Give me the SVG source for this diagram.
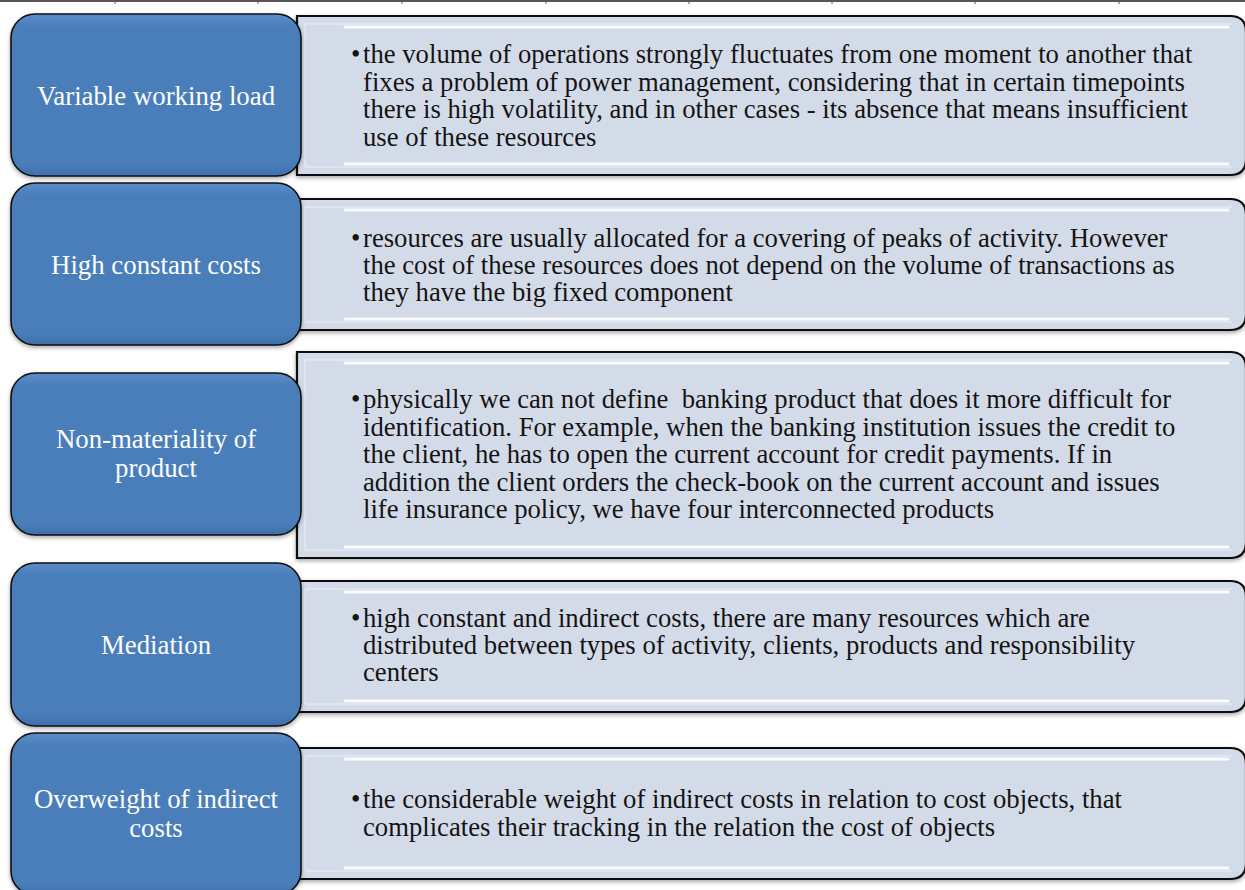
<svg xmlns="http://www.w3.org/2000/svg" width="1245" height="890" viewBox="0 0 1245 890">
<defs>
<style>
.blue{stroke:#111;stroke-width:1.6}
.lite{fill:#d4dbe8;stroke:#111;stroke-width:2.2}
.bt{font-family:"Liberation Serif","Times New Roman",serif;font-size:26.8px;fill:#ffffff;text-anchor:middle}
.lt{font-family:"Liberation Serif","Times New Roman",serif;font-size:26.7px;fill:#141414}
.hl{stroke:url(#hg);stroke-width:3;stroke-linecap:round;fill:none}
.lh{stroke:#ffffff;stroke-width:3;stroke-linecap:round;opacity:0.85;fill:none}
.bev{fill:none;stroke:#e4e8f0;stroke-width:1.5}
.tick{stroke:#555;stroke-width:1}
</style>
<linearGradient id="hg" x1="0" y1="0" x2="0" y2="1">
<stop offset="0" stop-color="#ffffff" stop-opacity="0.2"/>
<stop offset="0.15" stop-color="#ffffff" stop-opacity="0.9"/>
<stop offset="0.85" stop-color="#ffffff" stop-opacity="0.9"/>
<stop offset="1" stop-color="#ffffff" stop-opacity="0.2"/>
</linearGradient>
<linearGradient id="bg" x1="0" y1="0" x2="0" y2="1">
<stop offset="0" stop-color="#5a8cc8"/>
<stop offset="0.08" stop-color="#4a7ebb"/>
<stop offset="0.92" stop-color="#4a7ebb"/>
<stop offset="1" stop-color="#3f70ab"/>
</linearGradient>
<filter id="sh" x="-5%" y="-5%" width="110%" height="115%">
<feGaussianBlur in="SourceAlpha" stdDeviation="2"/>
<feOffset dx="0" dy="2" result="o"/>
<feComponentTransfer><feFuncA type="linear" slope="0.35"/></feComponentTransfer>
<feMerge><feMergeNode/><feMergeNode in="SourceGraphic"/></feMerge>
</filter>
</defs>
<rect width="1245" height="890" fill="#ffffff"/>
<g id="topline">
<line x1="0" y1="1" x2="1245" y2="1" stroke="#555" stroke-width="2"/>
<line class="tick" x1="115" y1="0" x2="115" y2="4"/>
<line class="tick" x1="258" y1="0" x2="258" y2="4"/>
<line class="tick" x1="402" y1="0" x2="402" y2="4"/>
<line class="tick" x1="546" y1="0" x2="546" y2="4"/>
<line class="tick" x1="689" y1="0" x2="689" y2="4"/>
<line class="tick" x1="832" y1="0" x2="832" y2="4"/>
<line class="tick" x1="975" y1="0" x2="975" y2="4"/>
<line class="tick" x1="1119" y1="0" x2="1119" y2="4"/>
</g>
<g id="connectors"></g>

<g id="row1-desc">
<path class="lite" filter="url(#sh)" d="M297,16 H1230 Q1246,16 1246,32 V159 Q1246,175 1230,175 H297 Z"/>
<path class="bev" d="M305,24 H1232 M305,167 H1232 M305,24 V167"/>
<line class="lh" x1="345" y1="27" x2="1228" y2="27"/>
<line class="lh" x1="345" y1="164" x2="1228" y2="164"/>
<text class="lt"><tspan x="351" y="63">•</tspan><tspan x="363" y="63">the volume of operations strongly fluctuates from one moment to another that</tspan><tspan x="363" y="91">fixes a problem of power management, considering that in certain timepoints</tspan><tspan x="363" y="118">there is high volatility, and in other cases - its absence that means insufficient</tspan><tspan x="363" y="146">use of these resources</tspan></text>
</g>
<g id="row2-desc">
<path class="lite" filter="url(#sh)" d="M297,199 H1230 Q1246,199 1246,215 V314 Q1246,330 1230,330 H297 Z"/>
<path class="bev" d="M305,207 H1232 M305,322 H1232 M305,207 V322"/>
<line class="lh" x1="345" y1="210" x2="1228" y2="210"/>
<line class="lh" x1="345" y1="319" x2="1228" y2="319"/>
<text class="lt"><tspan x="351" y="247">•</tspan><tspan x="363" y="247">resources are usually allocated for a covering of peaks of activity. However</tspan><tspan x="363" y="274">the cost of these resources does not depend on the volume of transactions as</tspan><tspan x="363" y="301">they have the big fixed component</tspan></text>
</g>
<g id="row3-desc">
<path class="lite" filter="url(#sh)" d="M297,352 H1230 Q1246,352 1246,368 V542 Q1246,558 1230,558 H297 Z"/>
<path class="bev" d="M305,360 H1232 M305,550 H1232 M305,360 V550"/>
<line class="lh" x1="345" y1="363" x2="1228" y2="363"/>
<line class="lh" x1="345" y1="547" x2="1228" y2="547"/>
<text class="lt"><tspan x="351" y="408">•</tspan><tspan x="363" y="408" xml:space="preserve">physically we can not define  banking product that does it more difficult for</tspan><tspan x="363" y="436">identification. For example, when the banking institution issues the credit to</tspan><tspan x="363" y="463">the client, he has to open the current account for credit payments. If in</tspan><tspan x="363" y="491">addition the client orders the check-book on the current account and issues</tspan><tspan x="363" y="518">life insurance policy, we have four interconnected products</tspan></text>
</g>
<g id="row4-desc">
<path class="lite" filter="url(#sh)" d="M297,581 H1230 Q1246,581 1246,597 V696 Q1246,712 1230,712 H297 Z"/>
<path class="bev" d="M305,589 H1232 M305,704 H1232 M305,589 V704"/>
<line class="lh" x1="345" y1="592" x2="1228" y2="592"/>
<line class="lh" x1="345" y1="701" x2="1228" y2="701"/>
<text class="lt"><tspan x="351" y="627">•</tspan><tspan x="363" y="627">high constant and indirect costs, there are many resources which are</tspan><tspan x="363" y="654">distributed between types of activity, clients, products and responsibility</tspan><tspan x="363" y="681">centers</tspan></text>
</g>
<g id="row5-desc">
<path class="lite" filter="url(#sh)" d="M297,748 H1230 Q1246,748 1246,764 V863 Q1246,879 1230,879 H297 Z"/>
<path class="bev" d="M305,756 H1232 M305,871 H1232 M305,756 V871"/>
<line class="lh" x1="345" y1="759" x2="1228" y2="759"/>
<line class="lh" x1="345" y1="868" x2="1228" y2="868"/>
<text class="lt"><tspan x="351" y="808">•</tspan><tspan x="363" y="808">the considerable weight of indirect costs in relation to cost objects, that</tspan><tspan x="363" y="836">complicates their tracking in the relation the cost of objects</tspan></text>
</g>

<g id="row1-title">
<rect class="blue" filter="url(#sh)" x="11" y="14" width="290" height="162" rx="24" style="fill:url(#bg)"/>
<line class="hl" x1="22" y1="36" x2="22" y2="150"/>
<line class="hl" x1="290" y1="42" x2="290" y2="158"/>
<text class="bt" x="156" y="105">Variable working load</text>
</g>
<g id="row2-title">
<rect class="blue" filter="url(#sh)" x="11" y="183" width="290" height="162" rx="24" style="fill:url(#bg)"/>
<line class="hl" x1="22" y1="205" x2="22" y2="319"/>
<line class="hl" x1="290" y1="211" x2="290" y2="327"/>
<text class="bt" x="156" y="274">High constant costs</text>
</g>
<g id="row3-title">
<rect class="blue" filter="url(#sh)" x="11" y="373" width="290" height="162" rx="24" style="fill:url(#bg)"/>
<line class="hl" x1="22" y1="395" x2="22" y2="509"/>
<line class="hl" x1="290" y1="401" x2="290" y2="517"/>
<text class="bt" x="156" y="448">Non-materiality of</text>
<text class="bt" x="156" y="477">product</text>
</g>
<g id="row4-title">
<rect class="blue" filter="url(#sh)" x="11" y="563" width="290" height="163" rx="24" style="fill:url(#bg)"/>
<line class="hl" x1="22" y1="585" x2="22" y2="700"/>
<line class="hl" x1="290" y1="591" x2="290" y2="708"/>
<text class="bt" x="156" y="654">Mediation</text>
</g>
<g id="row5-title">
<rect class="blue" filter="url(#sh)" x="11" y="733" width="290" height="162" rx="24" style="fill:url(#bg)"/>
<line class="hl" x1="22" y1="755" x2="22" y2="869"/>
<line class="hl" x1="290" y1="761" x2="290" y2="877"/>
<text class="bt" x="156" y="808">Overweight of indirect</text>
<text class="bt" x="156" y="837">costs</text>
</g>
</svg>
